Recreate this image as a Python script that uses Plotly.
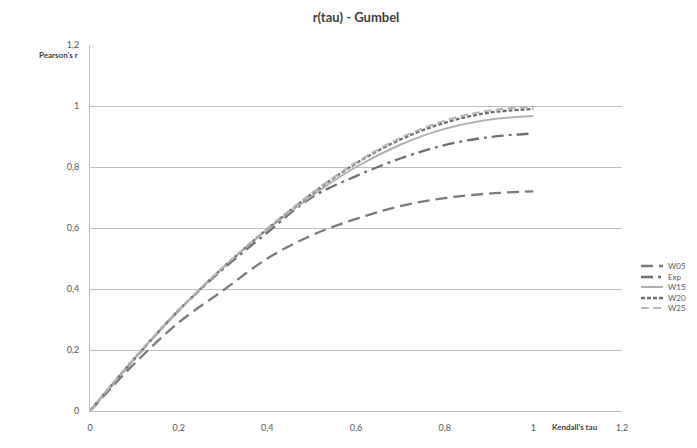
import plotly.graph_objects as go

tau = [0, 0.1, 0.2, 0.3, 0.4, 0.5, 0.6, 0.7, 0.8, 0.9, 1.0]
w05 = [0, 0.155, 0.29, 0.395, 0.50, 0.576, 0.63, 0.672, 0.698, 0.713, 0.72]
exp_ = [0, 0.17, 0.33, 0.465, 0.585, 0.70, 0.77, 0.828, 0.872, 0.898, 0.91]
w15 = [0, 0.172, 0.33, 0.47, 0.595, 0.705, 0.80, 0.873, 0.925, 0.955, 0.967]
w20 = [0, 0.172, 0.33, 0.47, 0.597, 0.712, 0.812, 0.89, 0.945, 0.978, 0.99]
w25 = [0, 0.172, 0.331, 0.471, 0.598, 0.714, 0.815, 0.895, 0.952, 0.985, 0.998]

series_names = ["W05", "Exp", "W15", "W20", "W25"]
series_vals = [w05, exp_, w15, w20, w25]
styles = [
    dict(color="#7a7a7a", width=2.3, dash="12px,6px"),
    dict(color="#6e6e6e", width=2.3, dash="12px,5px,3px,5px"),
    dict(color="#b0b0b0", width=2.0, dash="solid"),
    dict(color="#6e6e6e", width=2.3, dash="4px,2px"),
    dict(color="#b5b5b5", width=2.0, dash="8px,4px"),
]

# page offset (body margin) and pixel layout of the reference
OFF = 8
W, H = 697 - 2 * OFF, 448 - 2 * OFF
PL, PR, PT, PB = 90, 622, 45, 411  # plot area in screen pixels
pw, ph = PR - PL, PB - PT


def px(xs):
    return (xs - PL) / pw


def py(ys):
    return (PB - ys) / ph


font = "Lato, Open Sans, sans-serif"
fig = go.Figure()
shapes, anns = [], []
legend_y = [266, 277, 287, 298, 308]
for name, vals, st, ly in zip(series_names, series_vals, styles, legend_y):
    fig.add_trace(go.Scatter(x=tau, y=vals, mode="lines", name=name, showlegend=False,
                             line=dict(shape="spline", **st)))
    shapes.append(dict(type="line", xref="paper", yref="paper",
                       x0=px(641), x1=px(663), y0=py(ly), y1=py(ly),
                       line=dict(color=st["color"], width=st["width"], dash=st["dash"])))
    anns.append(dict(text=name, xref="paper", yref="paper", x=px(666), y=py(ly),
                     xanchor="left", yanchor="middle", showarrow=False,
                     font=dict(size=8, color="#595959")))

anns.append(dict(text="<b>Pearson's r</b>", xref="paper", yref="paper", x=px(80),
                 y=py(55), xanchor="right", yanchor="middle", showarrow=False,
                 font=dict(size=8, color="#404040")))
anns.append(dict(text="<b>Kendall's tau</b>", xref="paper", yref="paper", x=px(575),
                 y=py(427), xanchor="center", yanchor="middle", showarrow=False,
                 font=dict(size=8, color="#404040")))

fig.update_layout(
    width=W, height=H,
    margin=dict(l=PL - OFF, r=W - (PR - OFF), t=PT - OFF, b=H - (PB - OFF), autoexpand=False),
    paper_bgcolor="white", plot_bgcolor="white",
    separators=", ",
    showlegend=False,
    font=dict(family=font, size=9, color="#595959"),
    title=dict(text="<b>r(tau) - Gumbel</b>", x=px(356), xref="paper",
               y=1 - (17 - OFF) / H, yanchor="middle",
               font=dict(size=13, color="#404040", family=font)),
    xaxis=dict(range=[0, 1.2], dtick=0.2, tick0=0, showgrid=False, showline=True,
               linecolor="#bfbfbf", linewidth=1, zeroline=False, ticks="",
               ticklabelstandoff=8),
    yaxis=dict(range=[0, 1.2], dtick=0.2, tick0=0, showgrid=True, gridcolor="#bfbfbf",
               gridwidth=1, showline=True, linecolor="#bfbfbf", linewidth=1,
               zeroline=False, ticks="", ticklabelstandoff=8),
    shapes=shapes,
    annotations=anns,
)
fig.write_html("out.html")
